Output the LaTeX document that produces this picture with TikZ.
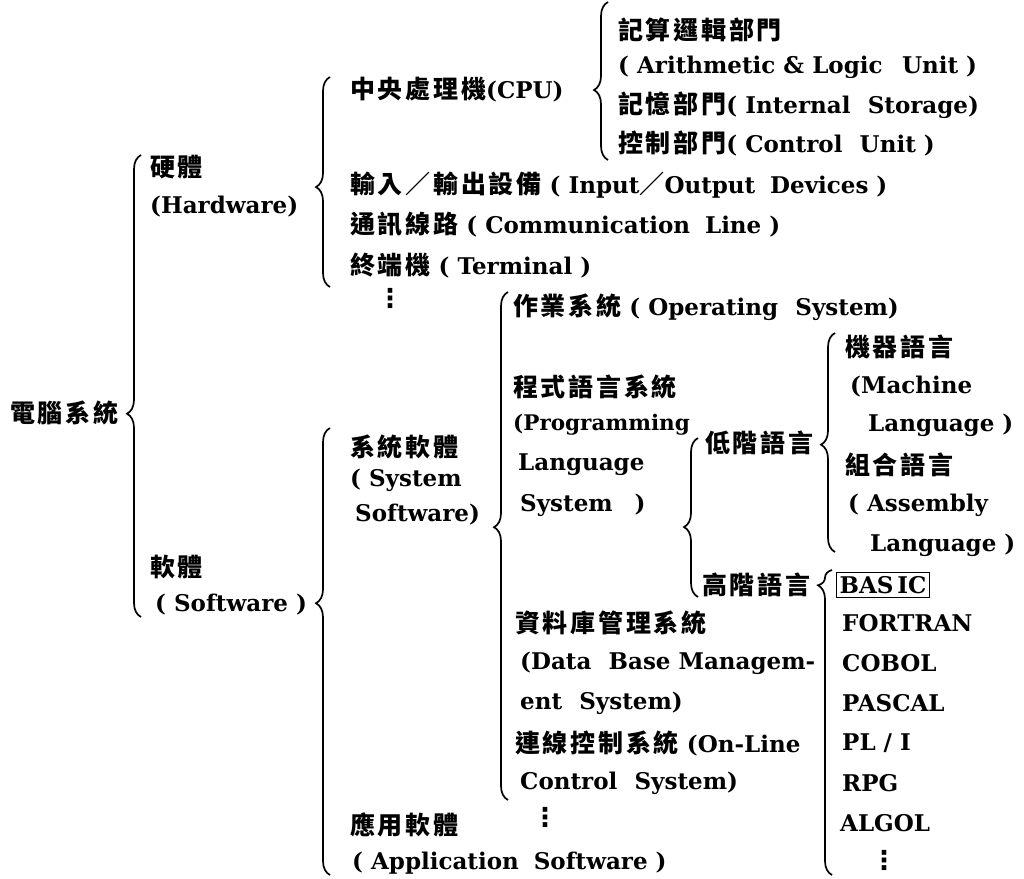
\documentclass[tikz,border=0pt]{standalone}
\usepackage{fontspec}
\setmainfont{DejaVu Serif}
\newfontfamily\cjkfam[LetterSpace=11]{Noto Sans CJK TC}
\newcommand\zh[1]{{\cjkfam\fontsize{25}{26}\selectfont\bfseries #1}}
\newfontfamily\symf{DejaVu Sans}
\usetikzlibrary{decorations.pathreplacing}
\begin{document}
\begin{tikzpicture}[x=1pt,y=-1pt,
  lbl/.style={anchor=west, inner sep=0pt, font=\fontsize{23}{26}\selectfont\bfseries},
  vdots/.style={inner sep=0pt, font=\symf\bfseries\fontsize{26}{26}\selectfont},
  br/.style={line width=1.7pt, decorate, decoration={brace, amplitude=14pt, aspect=#1}}]
\useasboundingbox (0,0) rectangle (1024,878);
% level 0
\node[lbl] (root) at (10,413) {\zh{電腦系統}};
% level 1
\node[lbl] (hw1) at (150,167) {\zh{硬體}};
\node[lbl] (hw2) at (150,207) {(Hardware)};
\node[lbl] (sw1) at (150,567) {\zh{軟體}};
\node[lbl] (sw2) at (155,605) {( Software )};
% hardware
\node[lbl] (cpu) at (350,90) {\zh{中央處理機}(CPU)};
\node[lbl] (alu1) at (618,30) {\zh{記算邏輯部門}};
\node[lbl] (alu2) at (618,67) {( Arithmetic \& Logic\hspace{0.5em} Unit )};
\node[lbl] (mem) at (618,105) {\zh{記憶部門}( Internal\hspace{0.4em} Storage)};
\node[lbl] (ctl) at (618,143) {\zh{控制部門}( Control\hspace{0.4em} Unit )};
\node[lbl] (io) at (350,185) {\zh{輸入／輸出設備} ( Input\zh{／}Output\hspace{0.3em} Devices )};
\node[lbl] (com) at (350,225) {\zh{通訊線路} ( Communication\hspace{0.3em} Line )};
\node[lbl] (term) at (350,265) {\zh{終端機} ( Terminal )};
\node[vdots] (d1) at (390,298) {⋮};
% software
\node[lbl] (sys1) at (350,447) {\zh{系統軟體}};
\node[lbl] (sys2) at (350,480) {( System};
\node[lbl] (sys3) at (355,515) {Software)};
\node[lbl] (app1) at (350,825) {\zh{應用軟體}};
\node[lbl] (app2) at (352,863) {( Application\hspace{0.3em} Software )};
% system software
\node[lbl] (os) at (513,307) {\zh{作業系統} ( Operating\hspace{0.4em} System)};
\node[lbl] (pl1) at (513,387) {\zh{程式語言系統}};
\node[lbl, font=\fontsize{21.5}{26}\selectfont\bfseries] (pl2) at (513,425) {(Programming};
\node[lbl] (pl3) at (518,465) {Language};
\node[lbl] (pl4) at (520,505) {System\hspace{0.6em} )};
\node[lbl] (db1) at (515,623) {\zh{資料庫管理系統}};
\node[lbl] (db2) at (520,663) {(Data\hspace{0.4em} Base Managem-};
\node[lbl] (db3) at (520,703) {ent\hspace{0.4em} System)};
\node[lbl] (ol1) at (515,743) {\zh{連線控制系統} (On-Line};
\node[lbl] (ol2) at (520,783) {Control\hspace{0.4em} System)};
\node[vdots] (d2) at (545,817) {⋮};
% languages
\node[lbl] (low) at (705,443) {\zh{低階語言}};
\node[lbl] (high) at (702,585) {\zh{高階語言}};
\node[lbl] (mach1) at (845,347) {\zh{機器語言}};
\node[lbl] (mach2) at (850,387) {(Machine};
\node[lbl] (mach3) at (868,425) {Language )};
\node[lbl] (asm1) at (845,465) {\zh{組合語言}};
\node[lbl] (asm2) at (848,505) {( Assembly};
\node[lbl] (asm3) at (870,545) {Language )};
\node[lbl, draw, line width=1.2pt, inner xsep=3pt, inner ysep=3.5pt] (basic) at (836,585) {BAS\hspace{4pt}IC};
\node[lbl] (fortran) at (842,623) {FORTRAN};
\node[lbl] (cobol) at (842,663) {COBOL};
\node[lbl] (pascal) at (842,703) {PASCAL};
\node[lbl] (pli) at (842,743) {PL / I};
\node[lbl] (rpg) at (842,783) {RPG};
\node[lbl] (algol) at (840,823) {ALGOL};
\node[vdots] (d3) at (884,860) {⋮};
% brace end points
\coordinate (mainB) at (141,617); \coordinate (mainT) at (141,155);
\coordinate (hwB) at (330,287);   \coordinate (hwT) at (330,77);
\coordinate (cpuB) at (608,160);  \coordinate (cpuT) at (608,2);
\coordinate (swB) at (330,875);   \coordinate (swT) at (330,428);
\coordinate (ssB) at (508,800);   \coordinate (ssT) at (508,292);
\coordinate (plB) at (698,597);   \coordinate (plT) at (698,438);
\coordinate (lowB) at (835,552);  \coordinate (lowT) at (835,333);
\coordinate (highB) at (832,875); \coordinate (highT) at (832,570);
% braces
\draw[br=0.44] (mainB) -- (mainT);
\draw[br=0.476] (hwB) -- (hwT);
\draw[br=0.443] (cpuB) -- (cpuT);
\draw[br=0.608] (swB) -- (swT);
\draw[br=0.537] (ssB) -- (ssT);
\draw[br=0.44] (plB) -- (plT);
\draw[br=0.49] (lowB) -- (lowT);
\draw[br=0.95] (highB) -- (highT);
\end{tikzpicture}
\end{document}
